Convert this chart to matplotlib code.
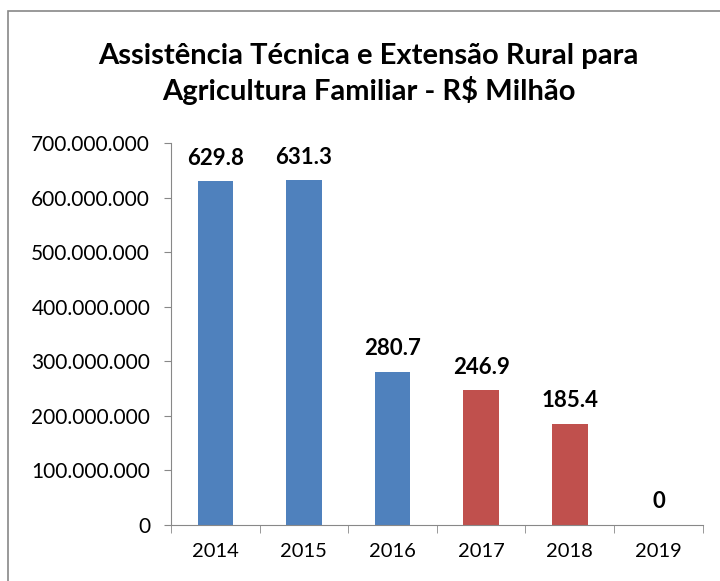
import numpy as np
import matplotlib.pyplot as plt
from matplotlib.ticker import FuncFormatter, FixedLocator
from matplotlib.patches import Rectangle

years = ["2014", "2015", "2016", "2017", "2018", "2019"]
valores_mi = [629.8, 631.3, 280.7, 246.9, 185.4, 0]
rotulos = ["629.8", "631.3", "280.7", "246.9", "185.4", "0"]
cores = ["#4F81BD", "#4F81BD", "#4F81BD", "#C0504D", "#C0504D", "#C0504D"]

plt.rcParams['font.family'] = ['Lato', 'DejaVu Sans']

fig = plt.figure(figsize=(7.2, 5.81), dpi=100)
ax = fig.add_axes([0.2375, 0.0964, 0.7385, 0.6576])

x = np.arange(len(years))
valores = [v * 1e6 for v in valores_mi]
ax.bar(x, valores, width=0.4, color=cores)

for xi, v, r in zip(x, valores, rotulos):
    ax.annotate(r, (xi, v), xytext=(0, 9), textcoords="offset points",
                ha="center", va="bottom", fontsize=16, fontweight="bold")

ax.set_ylim(0, 700e6)
ax.set_xlim(-0.5, len(years) - 0.5)
ax.set_yticks(np.arange(0, 700e6 + 1, 100e6))
ax.yaxis.set_major_formatter(FuncFormatter(lambda v, p: f"{int(v):,}".replace(",", ".")))
ax.set_xticks(x)
ax.set_xticklabels(years)
ax.xaxis.set_minor_locator(FixedLocator(np.arange(-0.5, len(years), 1)))
ax.tick_params(axis="x", which="major", length=0, pad=13, labelsize=14.5)
ax.tick_params(axis="x", which="minor", length=6, color="#888888", direction="out")
ax.tick_params(axis="y", length=5, color="#888888", direction="out", labelsize=15, pad=10)

for s in ["top", "right"]:
    ax.spines[s].set_visible(False)
for s in ["left", "bottom"]:
    ax.spines[s].set_color("#888888")

fig.text(0.512, 0.873, "Assistência Técnica e Extensão Rural para\nAgricultura Familiar - R$ Milhão",
         ha="center", va="center", fontsize=21, fontweight="bold", linespacing=1.3)

fig.patches.append(Rectangle((8 / 720, -0.1), 1.2, 1 - 11 / 581 + 0.1, transform=fig.transFigure,
                             fill=False, edgecolor="#888888", linewidth=1.2))

fig.savefig("out.png", dpi=100)
